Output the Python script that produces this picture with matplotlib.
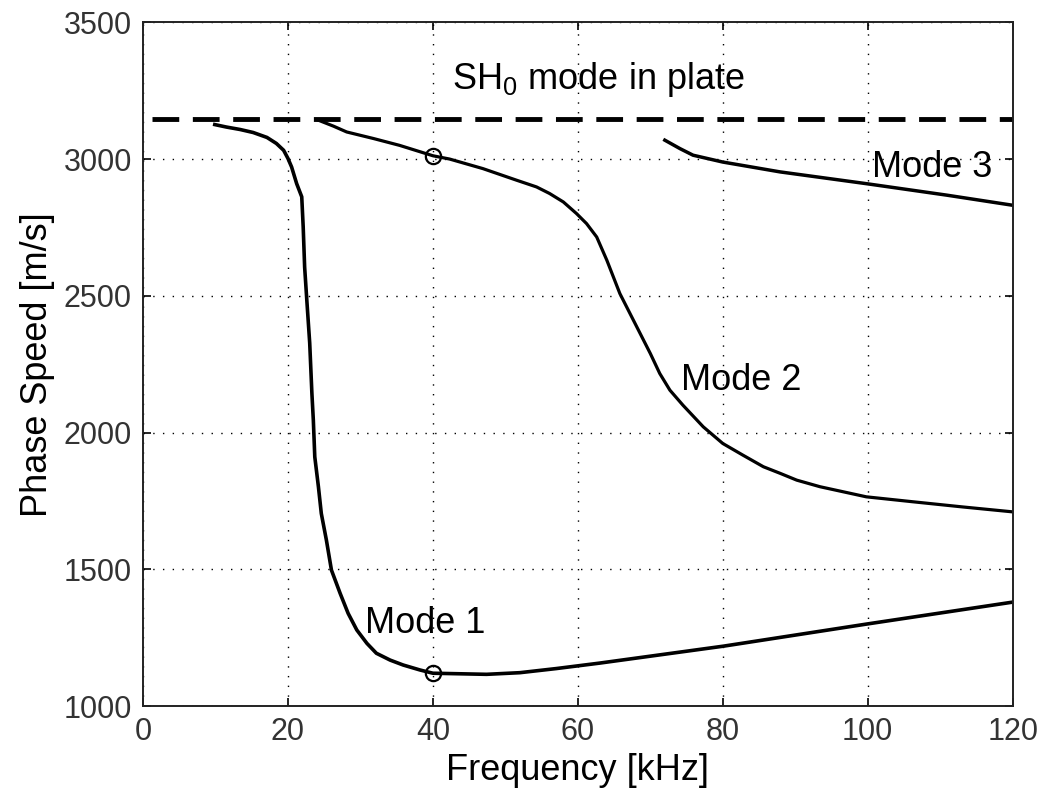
import matplotlib
matplotlib.use('Agg')
import matplotlib.pyplot as plt

plt.rcParams['font.family'] = ['Liberation Sans', 'DejaVu Sans']
plt.rcParams['mathtext.fontset'] = 'custom'
plt.rcParams['mathtext.rm'] = 'Liberation Sans'

# Dispersion curves (frequency kHz, phase speed m/s)
mode1_f = [9.9, 11.5, 13.4, 15.2, 17.1, 18.4, 19.4, 20.0, 20.5, 21.2, 21.9, 22.1,
           22.3, 22.6, 23.0, 23.3, 23.5, 23.7, 24.2, 24.6, 25.3, 26.0, 27.2, 28.3,
           29.5, 30.9, 32.2, 34.1, 35.9, 38.2, 40.0, 47.4, 52.0, 57.0, 63.0, 80.1,
           99.9, 120.0]
mode1_v = [3126, 3117, 3108, 3097, 3079, 3057, 3032, 3002, 2971, 2910, 2862, 2752,
           2605, 2484, 2327, 2144, 2045, 1911, 1802, 1704, 1607, 1497, 1412, 1339,
           1278, 1229, 1193, 1168, 1150, 1132, 1120, 1116, 1122, 1137, 1157, 1219,
           1300, 1380]

mode2_f = [24.2, 26.3, 28.1, 31.8, 35.4, 40.0, 42.3, 46.9, 51.5, 54.3, 56.1, 58.0,
           59.8, 61.2, 62.6, 64.0, 64.9, 65.8, 67.2, 68.6, 70.0, 71.3, 72.7, 74.5,
           77.3, 80.0, 82.8, 85.6, 87.9, 90.2, 93.4, 99.8, 106.2, 113.1, 120.0]
mode2_v = [3142, 3120, 3099, 3075, 3050, 3012, 3000, 2965, 2923, 2898, 2874, 2843,
           2801, 2764, 2715, 2630, 2569, 2508, 2435, 2362, 2289, 2216, 2155, 2100,
           2021, 1960, 1917, 1875, 1851, 1826, 1802, 1765, 1747, 1728, 1710]

mode3_f = [72.0, 74.1, 75.9, 80.0, 87.9, 99.8, 110.9, 120.0]
mode3_v = [3069, 3038, 3014, 2989, 2953, 2910, 2868, 2831]

sh0_f = [1.2, 120.0]
sh0_v = [3145, 3145]

marker_f = [40, 40]
marker_v = [1120, 3010]

fig = plt.figure(figsize=(10.44, 7.96), dpi=100)
ax = fig.add_axes([0.137, 0.113, 0.833, 0.859])

ax.plot(sh0_f, sh0_v, color='black', lw=3.5, linestyle=(0, (5.5, 2.8)))
ax.plot(mode1_f, mode1_v, color='black', lw=2.6, solid_joinstyle='round')
ax.plot(mode2_f, mode2_v, color='black', lw=2.3, solid_joinstyle='round')
ax.plot(mode3_f, mode3_v, color='black', lw=2.5, solid_joinstyle='round')
ax.plot(marker_f, marker_v, 'o', markersize=11, markerfacecolor='none',
        markeredgecolor='black', markeredgewidth=1.6)

ax.text(42.6, 3255, r'SH$_\mathregular{0}$ mode in plate', fontsize=26, ha='left', va='baseline')
ax.text(30.6, 1267, 'Mode 1', fontsize=26, ha='left', va='baseline')
ax.text(74.3, 2155, 'Mode 2', fontsize=26, ha='left', va='baseline')
ax.text(100.6, 2933, 'Mode 3', fontsize=26, ha='left', va='baseline')

ax.set_xlim(0, 120)
ax.set_ylim(1000, 3500)
ax.set_xticks([0, 20, 40, 60, 80, 100, 120])
ax.set_yticks([1000, 1500, 2000, 2500, 3000, 3500])
ax.grid(True, color='black', linestyle=(0, (1, 6)), lw=1.0)
ax.tick_params(direction='in', length=6, width=1.2, top=True, right=True,
               labelsize=22, labelcolor='#333333', pad=8)
for s in ax.spines.values():
    s.set_linewidth(1.4)
    s.set_color('#222222')

ax.set_xlabel('Frequency [kHz]', fontsize=26, labelpad=4)
ax.set_ylabel('Phase Speed [m/s]', fontsize=26, labelpad=6)

fig.savefig('out.png', dpi=100)
